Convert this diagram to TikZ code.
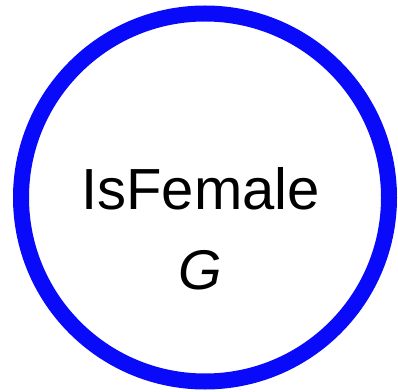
\documentclass[tikz,border=0pt]{standalone}
\usepackage{fontspec}
\setmainfont{Liberation Sans}
\usepackage{tikz}
\usetikzlibrary{positioning}
\definecolor{varblue}{RGB}{10,10,250}

\begin{document}
\begin{tikzpicture}[x=1pt,y=1pt,
    var/.style={circle, draw=varblue, line width=16pt, minimum size=368pt, inner sep=0pt},
    label/.style={anchor=base, font=\fontsize{58}{70}\selectfont, inner sep=0pt}
]
\useasboundingbox (0,0) rectangle (398,391);
\node[var] (isfemale) at (205,193.5) {};
\node[label] (name) at (200.5,181.5) {IsFemale};
\node[label, font=\fontsize{56}{70}\selectfont\itshape] (type) at (200,101.5) {G};
\end{tikzpicture}
\end{document}
